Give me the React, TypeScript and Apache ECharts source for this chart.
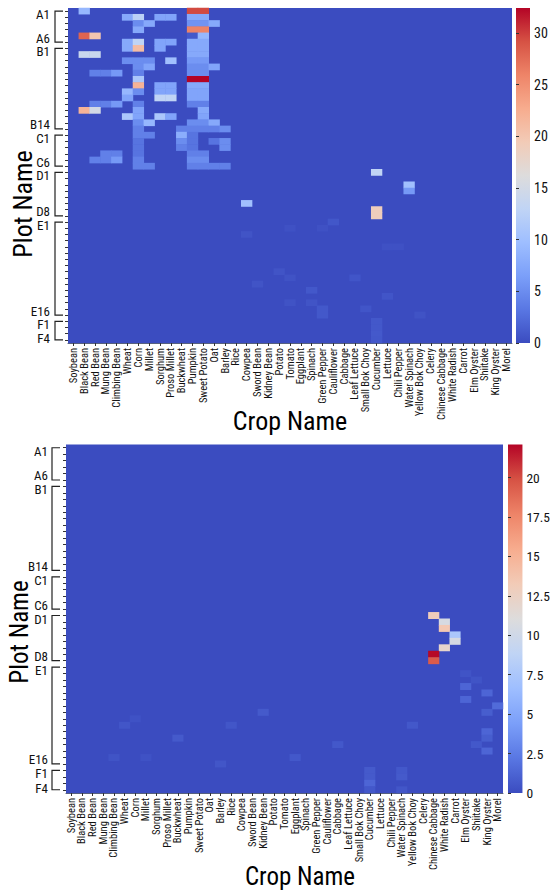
import React, { useEffect, useRef } from "react";
import * as echarts from "echarts";

const crops = ["Soybean","Black Bean","Red Bean","Mung Bean","Climbing Bean","Wheat","Corn","Millet","Sorghum","Proso Millet","Buckwheat","Pumpkin","Sweet Potato","Oat","Barley","Rice","Cowpea","Sword Bean","Kidney Bean","Potato","Tomato","Eggplant","Spinach","Green Pepper","Cauliflower","Cabbage","Leaf Lettuce","Small Bok Choy","Cucumber","Lettuce","Chili Pepper","Water Spinach","Yellow Bok Choy","Celery","Chinese Cabbage","White Radish","Carrot","Elm Oyster","Shiitake","King Oyster","Morel"];

const plotGroups: [string, number][] = [["A",6],["B",14],["C",6],["D",8],["E",16],["F",4]];
const plots: string[] = [];
const bracketRanges: [number, number][] = [];
plotGroups.forEach(([g, n]) => {
  const start = plots.length;
  for (let i = 1; i <= n; i++) plots.push(g + i);
  bracketRanges.push([start, start + n - 1]);
});

// [row, column, value]
const topCells: [number, number, number][] = [
  [0,1,9],[0,11,29.5],[0,12,29.5],
  [1,5,7.5],[1,6,12.5],[1,8,7],[1,9,7],[1,11,7.5],[1,12,7.5],
  [2,6,5],[2,7,7.5],[2,11,5.5],[2,12,5.5],[2,13,7.5],
  [3,6,7.5],[3,11,26],[3,12,26],
  [4,1,28],[4,2,20],[4,11,1],[4,12,9],
  [5,5,7.5],[5,6,13],[5,8,7],[5,9,7],[5,11,7.5],[5,12,7.5],
  [6,5,7.5],[6,6,21],[6,8,7],[6,11,7.5],[6,12,7.5],
  [7,1,14],[7,2,14],[7,11,7.5],[7,12,7.5],
  [8,5,5],[8,6,5],[8,7,5],[8,9,10],[8,11,6],[8,12,6],
  [9,6,5],[9,7,7],[9,11,5],[9,12,5],[9,13,7],
  [10,2,4],[10,3,4],[10,4,6],[10,6,4],[10,11,5],[10,12,5],
  [11,6,11],[11,11,32.4],[11,12,32.4],
  [12,6,22],[12,8,7],[12,9,7],[12,11,7.5],[12,12,7.5],
  [13,5,9],[13,6,5],[13,8,7],[13,9,7],[13,11,7],[13,12,7],
  [14,5,7],[14,8,13],[14,9,13],[14,11,7],[14,12,7],
  [15,2,4],[15,3,4],[15,4,6],[15,6,4],[15,11,4],[15,12,4],
  [16,1,22],[16,2,15],[16,6,7],[16,12,7.5],
  [17,5,11],[17,6,7],[17,8,11],[17,9,7],[17,12,7],
  [18,6,5],[18,7,9],[18,11,5],[18,12,5],[18,13,7.5],
  [19,6,4],[19,10,4],[19,11,4],[19,12,4],[19,13,4],[19,14,5],
  [20,6,4],[20,7,4],[20,10,8],[20,11,3],
  [21,6,3],[21,10,5],[21,11,3],[21,13,3],[21,14,5],
  [22,6,3],[22,10,4],[22,11,3],[22,14,5],
  [23,3,4],[23,4,4],[23,6,3],[23,11,4],[23,12,4],
  [24,2,4],[24,3,4],[24,4,6],[24,6,4],[24,11,5],[24,12,5],
  [25,6,4],[25,7,4],[25,11,4],[25,12,4],[25,13,4],[25,14,4],
  [26,28,13],
  [28,31,10],[29,31,6],
  [31,16,10],
  [32,28,19],[33,28,19],
  [34,24,0.8],[35,20,0.4],[35,23,0.4],[36,16,0.6],[38,29,0.4],[38,30,0.4],
  [42,19,0.6],[43,20,0.5],[43,26,0.7],[44,17,0.6],[45,22,0.9],[46,29,0.7],[47,20,0.5],[47,22,0.6],
  [48,23,0.9],[49,23,0.9],[48,27,0.7],[49,32,0.5],
  [50,28,0.9],[51,28,0.9],[52,28,1],[53,28,0.9],
];

const bottomCells: [number, number, number][] = [
  [26,34,13],[27,35,10.5],[28,35,13.5],[29,36,7.5],[30,36,10.5],[31,35,12],[32,34,22],[33,34,19.5],
  [35,37,0.4],[36,38,0.4],[37,37,1.3],[39,37,1.3],[38,39,1.3],[41,39,0.9],[40,40,1.6],
  [43,32,0.6],[44,39,1.3],[45,39,0.9],[46,38,0.6],[47,39,1.3],[46,25,0.6],[48,21,0.6],
  [50,28,0.7],[51,28,0.7],[52,28,1.3],[53,28,0.6],[50,31,0.6],[51,31,0.7],[53,31,0.5],
  [43,5,0.5],[42,6,0.3],[45,10,0.7],[43,15,0.5],[41,18,0.7],[49,14,0.5],[48,4,0.4],[48,7,0.3],
];

const topMax = 32.4;
const bottomMax = 22.1;
const topScaleTicks = [0, 5, 10, 15, 20, 25, 30];
const bottomScaleTicks = [0, 2.5, 5, 7.5, 10, 12.5, 15, 17.5, 20];
const coolwarm = ["#3b4cc0","#5977e3","#7b9ff9","#9ebeff","#c0d4f5","#dddcdc","#f2cbb7","#f7ac8e","#ee8468","#d65244","#b40426"];

const labelFont = "'Roboto Condensed', 'Roboto', sans-serif";

function toSeriesData(cells: [number, number, number][]) {
  return cells.map(([r, c, v]) => [c, r, v]);
}

function heatAxes(gridIndex: number) {
  return {
    x: {
      type: "category", gridIndex, data: crops, boundaryGap: true,
      axisLine: { show: true, lineStyle: { color: "#56607f", width: 1 } },
      axisTick: { show: true, length: 3, alignWithLabel: true, interval: 0, lineStyle: { color: "#333" } },
      axisLabel: { interval: 0, rotate: 90, margin: 5, fontSize: 10.5, color: "#111", fontFamily: labelFont },
      splitLine: { show: false },
    },
    y: {
      type: "category", gridIndex, data: plots, inverse: true, boundaryGap: true,
      axisLine: { show: false },
      axisTick: { show: true, length: 3, alignWithLabel: true, interval: 0, lineStyle: { color: "#333" } },
      axisLabel: { show: false },
      splitLine: { show: false },
    },
  };
}

function heatSeries(i: number, cells: [number, number, number][]) {
  return {
    type: "heatmap", xAxisIndex: i, yAxisIndex: i, data: toSeriesData(cells),
    itemStyle: { borderWidth: 0 }, emphasis: { disabled: true }, silent: true, progressive: 0,
  };
}

function bracketSeries(i: number, farX: number, nearX: number, labelX: number) {
  return {
    type: "custom", xAxisIndex: i, yAxisIndex: i, silent: true, clip: false,
    data: bracketRanges,
    encode: { x: -1, y: [0, 1] },
    renderItem: (params: any, api: any) => {
      const cs = params.coordSys;
      const start = api.value(0);
      const end = api.value(1);
      const y0 = api.coord([0, start])[1];
      const y1 = api.coord([0, end])[1];
      const isLast = end === plots.length - 1;
      const text = (name: string, y: number) => ({
        type: "text", x: cs.x - labelX, y,
        style: { text: name, align: "right", verticalAlign: "middle", fontSize: 13, fill: "#111", fontFamily: labelFont },
      });
      return {
        type: "group",
        children: [
          {
            type: "polyline",
            shape: { points: [[cs.x - nearX, y0], [cs.x - farX, y0], [cs.x - farX, y1], [cs.x - nearX, y1]] },
            style: { stroke: "#222", fill: "none", lineWidth: 1.2 },
          },
          text(plots[start], y0 + 3.5),
          text(plots[end], y1 - (isLast ? 1 : 4)),
        ],
      };
    },
  };
}

function scaleAxes(gridIndex: number, max: number, ticks: number[], fontSize: number, margin: number) {
  return {
    x: { type: "value", gridIndex, min: 0, max: 1, show: false },
    y: {
      type: "value", gridIndex, min: 0, max, position: "right",
      axisLine: { show: false },
      axisTick: { show: true, length: 3, customValues: ticks, lineStyle: { color: "#333" } },
      axisLabel: { customValues: ticks, fontSize, margin, color: "#111", fontFamily: labelFont },
      splitLine: { show: false },
    },
  };
}

const gradient = () =>
  new echarts.graphic.LinearGradient(0, 1, 0, 0, coolwarm.map((color, i) => ({ offset: i / (coolwarm.length - 1), color })));

const titles = [
  { text: "Plot Name", x: 23, y: 204, rot: true, size: 26 },
  { text: "Crop Name", x: 290, y: 421, rot: false, size: 26 },
  { text: "Plot Name", x: 19, y: 632, rot: true, size: 25 },
  { text: "Crop Name", x: 300, y: 876, rot: false, size: 25 },
];

export default function App() {
  const ref = useRef<HTMLDivElement>(null);
  useEffect(() => {
    document.body.style.margin = "0";
    const chart = echarts.init(ref.current!, undefined, { renderer: "svg" });
    const a0 = heatAxes(0), a1 = heatAxes(1);
    const s0 = scaleAxes(2, topMax, topScaleTicks, 14, 4);
    const s1 = scaleAxes(3, bottomMax, bottomScaleTicks, 13.5, 4);
    chart.setOption({
      animation: false,
      backgroundColor: "#fff",
      grid: [
        { left: 68, top: 8, width: 444, height: 335, show: true, borderWidth: 0, backgroundColor: coolwarm[0] },
        { left: 66, top: 444.5, width: 437, height: 348.5, show: true, borderWidth: 0, backgroundColor: coolwarm[0] },
        { left: 516, top: 8, width: 14, height: 335, show: true, borderWidth: 0, backgroundColor: gradient() },
        { left: 508, top: 444.5, width: 16, height: 348.5, show: true, borderWidth: 0, backgroundColor: gradient() },
      ],
      xAxis: [a0.x, a1.x, s0.x, s1.x],
      yAxis: [a0.y, a1.y, s0.y, s1.y],
      visualMap: [
        { type: "continuous", show: false, seriesIndex: 0, min: 0, max: topMax, inRange: { color: coolwarm } },
        { type: "continuous", show: false, seriesIndex: 1, min: 0, max: bottomMax, inRange: { color: coolwarm } },
      ],
      series: [
        heatSeries(0, topCells),
        heatSeries(1, bottomCells),
        bracketSeries(0, 13, 5, 18),
        bracketSeries(1, 14, 6, 18),
      ],
      graphic: titles.map((t) => ({
        type: "text", x: t.x, y: t.y, rotation: t.rot ? Math.PI / 2 : 0, silent: true,
        style: { text: t.text, align: "center", verticalAlign: "middle", fontSize: t.size, fill: "#000", fontFamily: labelFont },
      })),
    });
    return () => chart.dispose();
  }, []);
  return <div ref={ref} style={{ position: "absolute", left: 0, top: 0, width: 553, height: 892 }} />;
}
